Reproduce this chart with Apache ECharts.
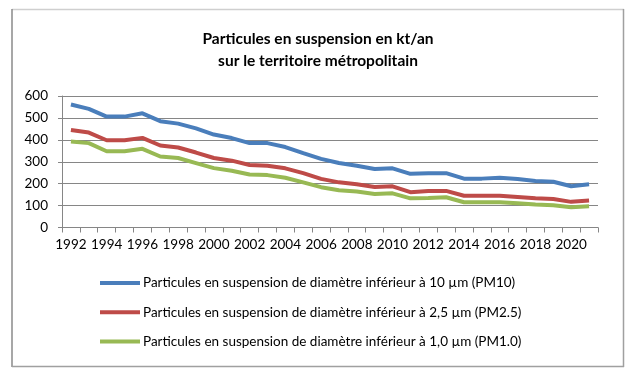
<!DOCTYPE html>
<html><head><meta charset="utf-8">
<script src="https://cdn.jsdelivr.net/npm/echarts@6/dist/echarts.min.js"></script>
<style>html,body{margin:0;padding:0;background:#fff}#c{width:636px;height:378px}</style>
</head><body><div id="c"></div>
<script>
const years = ['1992','1993','1994','1995','1996','1997','1998','1999','2000','2001','2002','2003','2004','2005','2006','2007','2008','2009','2010','2011','2012','2013','2014','2015','2016','2017','2018','2019','2020','2021'];
const pm10 = [561,541,506,506,521,485,474,452,424,408,385,385,367,339,313,294,282,267,270,245,248,248,223,223,227,221,212,209,188,197];
const pm25 = [445,433,398,398,409,374,365,342,317,305,285,282,270,248,222,206,197,185,188,161,167,167,145,145,145,139,133,130,117,123];
const pm1 = [392,385,348,348,359,324,317,294,271,259,242,239,227,206,184,170,164,153,156,133,135,138,115,115,115,111,105,102,92,97];
const names = ['Particules en suspension de diamètre inférieur à 10 µm (PM10)','Particules en suspension de diamètre inférieur à 2,5 µm (PM2.5)','Particules en suspension de diamètre inférieur à 1,0 µm (PM1.0)'];
const colors = ['#4A7EBB','#BE4B48','#98B954'];

const chart = echarts.init(document.getElementById('c'), null, {renderer:'canvas'});
const font = 'Lato';
function mk(name, data, color){
  return {name, type:'line', data, symbol:'none', smooth:false,
    lineStyle:{color, width:4}, itemStyle:{color}, emphasis:{disabled:true}};
}
chart.setOption({
  animation:false,
  graphic:[
    {type:'line', shape:{x1:12,y1:9.5,x2:624,y2:9.5}, style:{stroke:'#cfcfcf', lineWidth:1.5}},
    {type:'line', shape:{x1:12,y1:9,x2:12,y2:367}, style:{stroke:'#8a8a8a', lineWidth:1.5}},
    {type:'line', shape:{x1:623.5,y1:9,x2:623.5,y2:367}, style:{stroke:'#a0a0a0', lineWidth:1.5}},
    {type:'line', shape:{x1:12,y1:366.5,x2:624,y2:366.5}, style:{stroke:'#a0a0a0', lineWidth:1.5}}
  ],
  title:{text:'Particules en suspension en kt/an\nsur le territoire métropolitain', left:'center', top:23,
    textStyle:{fontFamily:font, fontWeight:'bold', fontSize:15.5, color:'#000', lineHeight:22}},
  grid:{left:62, right:38, top:96, bottom:150.5, containLabel:false},
  legend:{orient:'vertical', left:100, top:276, padding:0, itemWidth:40, itemHeight:4, itemGap:15.3,
    icon:'rect',
    textStyle:{fontFamily:font, fontSize:13.5, lineHeight:14, color:'#000', padding:[0,0,0,-2]},
    data:names},
  xAxis:{type:'category', data:years, boundaryGap:true,
    axisLine:{lineStyle:{color:'#868686', width:1}},
    axisTick:{show:true, interval:0, length:5, lineStyle:{color:'#868686'}},
    axisLabel:{interval:1, fontFamily:font, fontSize:13.5, color:'#000', margin:10}},
  yAxis:{type:'value', min:0, max:600, interval:100,
    axisLine:{show:true, lineStyle:{color:'#868686', width:1}},
    axisTick:{show:true, length:4, lineStyle:{color:'#868686'}},
    splitLine:{lineStyle:{color:'#868686', width:1}},
    axisLabel:{fontFamily:font, fontSize:13.5, color:'#000', margin:14}},
  series:[mk(names[0],pm10,colors[0]), mk(names[1],pm25,colors[1]), mk(names[2],pm1,colors[2])]
});
</script></body></html>
